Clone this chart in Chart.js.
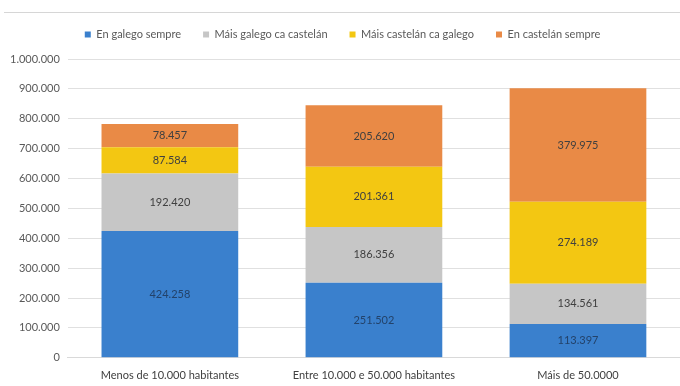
<!DOCTYPE html>
<html>
<head>
<meta charset="utf-8">
<script src="https://cdn.jsdelivr.net/npm/chart.js@4/dist/chart.umd.min.js"></script>
<style>
  html, body { margin: 0; padding: 0; background: #fff; }
  #wrap { position: relative; width: 680px; height: 386px; }
</style>
</head>
<body>
<div id="wrap"><canvas id="chart" width="680" height="386"></canvas></div>
<script>
const categories = [
    "Menos de 10.000 habitantes",
    "Entre 10.000 e 50.000 habitantes",
    "Máis de 50.0000",
];

const galegoSempre = [424258, 251502, 113397];
const maisGalego = [192420, 186356, 134561];
const maisCastelan = [87584, 201361, 274189];
const castelanSempre = [78457, 205620, 379975];

const seriesNames = [
    "En galego sempre",
    "Máis galego ca castelán",
    "Máis castelán ca galego",
    "En castelán sempre",
];

const colors = ["#3a80cd", "#c6c6c6", "#f3c712", "#e98a46"];
const font = "Lato, 'Open Sans', sans-serif";

const fmt = (v) => v.toLocaleString("de-DE");

// writes each segment's value in the middle of the bar
const valueLabels = {
    id: "valueLabels",
    afterDatasetsDraw(chart) {
        const ctx = chart.ctx;
        ctx.save();
        ctx.font = "11px " + font;
        ctx.textAlign = "center";
        ctx.textBaseline = "middle";
        chart.data.datasets.forEach((ds, i) => {
            const meta = chart.getDatasetMeta(i);
            meta.data.forEach((bar, j) => {
                const mid = (bar.y + bar.base) / 2;
                ctx.fillStyle = i == 0 ? "#23426a" : "#404040";
                ctx.fillText(fmt(ds.data[j]), bar.x, mid);
            });
        });
        ctx.restore();
    },
};

// thin rule across the top of the page
const topRule = {
    id: "topRule",
    beforeDraw(chart) {
        const ctx = chart.ctx;
        ctx.save();
        ctx.strokeStyle = "#d6d6d6";
        ctx.lineWidth = 1;
        ctx.beginPath();
        ctx.moveTo(4, 12.5);
        ctx.lineTo(680, 12.5);
        ctx.stroke();
        ctx.restore();
    },
};

// extra room under the legend
const legendGap = {
    id: "legendGap",
    beforeInit(chart) {
        const origFit = chart.legend.fit;
        chart.legend.fit = function () {
            origFit.bind(chart.legend)();
            this.height += 9;
        };
    },
};

const datasets = [galegoSempre, maisGalego, maisCastelan, castelanSempre].map((data, i) => ({
    label: seriesNames[i],
    data: data,
    backgroundColor: colors[i],
    borderWidth: 0,
    barPercentage: 0.67,
    categoryPercentage: 1,
}));

new Chart(document.getElementById("chart").getContext("2d"), {
    type: "bar",
    data: { labels: categories, datasets: datasets },
    options: {
        responsive: false,
        animation: false,
        layout: { padding: { top: 7, left: 2, right: -3, bottom: 1 } },
        plugins: {
            legend: {
                position: "top",
                labels: {
                    boxWidth: 6,
                    boxHeight: 6,
                    padding: 22,
                    color: "#595959",
                    font: { size: 11, family: font },
                },
            },
            tooltip: { enabled: false },
        },
        scales: {
            x: {
                stacked: true,
                grid: { display: false },
                border: { color: "#d9d9d9" },
                ticks: {
                    color: "#404040",
                    font: { size: 11, family: font },
                },
            },
            y: {
                stacked: true,
                min: 0,
                max: 1000000,
                grid: { color: "#e0e0e0", drawTicks: false },
                border: { display: false },
                ticks: {
                    stepSize: 100000,
                    padding: 8,
                    color: "#595959",
                    font: { size: 11, family: font },
                    callback: (v) => fmt(v),
                },
            },
        },
    },
    plugins: [valueLabels, topRule, legendGap],
});
</script>
</body>
</html>
